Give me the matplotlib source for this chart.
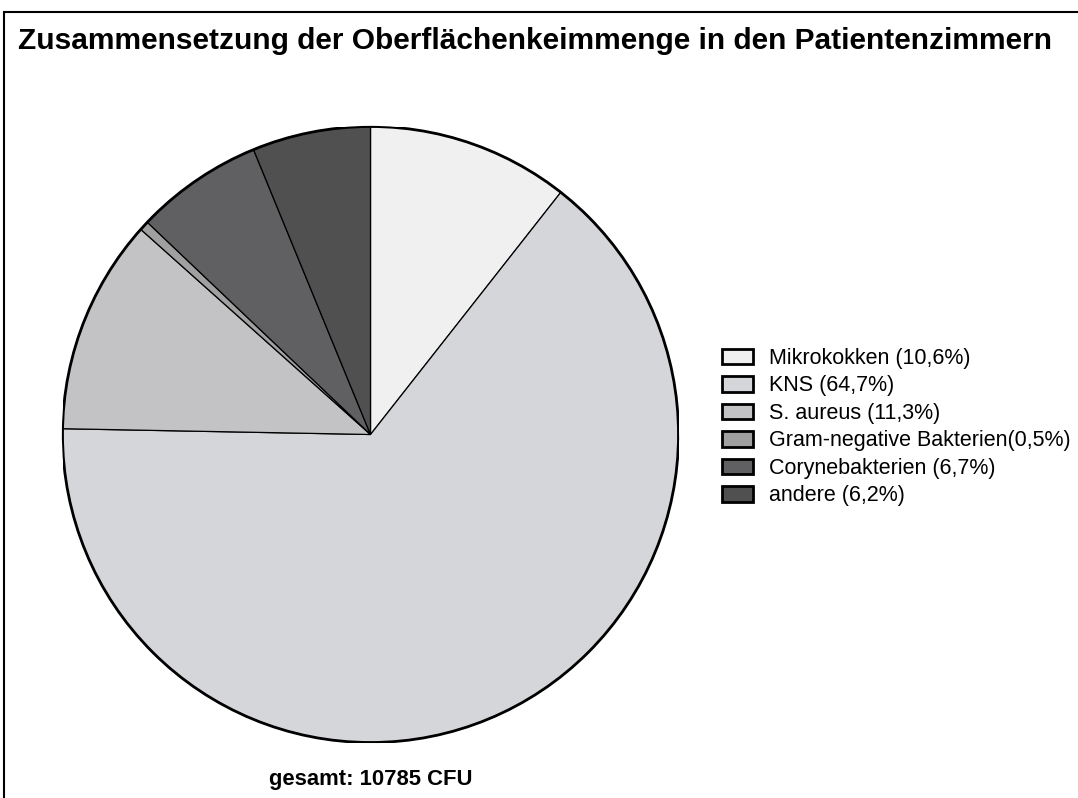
import matplotlib.pyplot as plt
from matplotlib.patches import Patch, Circle, Rectangle

categories = ['Mikrokokken', 'KNS', 'S. aureus', 'Gram-negative Bakterien',
              'Corynebakterien', 'andere']
shares = [10.6, 64.7, 11.3, 0.5, 6.7, 6.2]
legend_labels = ['Mikrokokken (10,6%)', 'KNS (64,7%)', 'S. aureus (11,3%)',
                 'Gram-negative Bakterien(0,5%)', 'Corynebakterien (6,7%)',
                 'andere (6,2%)']
colors = ['#f0f0f0', '#d5d6d9', '#c3c3c5', '#a0a0a0', '#606063', '#505050']
total_cfu = 10785

plt.rcParams['font.family'] = ['Liberation Sans', 'DejaVu Sans']

W, H = 1078, 798
fig = plt.figure(figsize=(W / 100, H / 100), dpi=100)

# outer frame (right and bottom edges fall outside the image)
fig.patches.append(Rectangle((4 / W, -0.1), 1.2, 1.1 - 12 / H, transform=fig.transFigure,
                             fill=False, edgecolor='black', linewidth=1.5))

fig.text(18 / W, 1 - 41 / H, 'Zusammensetzung der Oberflächenkeimmenge in den Patientenzimmern',
         fontsize=21.5, fontweight='bold', va='center', ha='left')

cx, cy, r = 370.5, 434.5, 308
ax = fig.add_axes([(cx - r) / W, (H - cy - r) / H, 2 * r / W, 2 * r / H])
wedges, _ = ax.pie(shares, colors=colors, startangle=90, counterclock=False,
                   wedgeprops=dict(edgecolor='black', linewidth=0.9))
ax.add_patch(Circle((0, 0), 1, fill=False, edgecolor='black', linewidth=2))
ax.set_xlim(-1, 1)
ax.set_ylim(-1, 1)
ax.set_aspect('equal')
ax.axis('off')
for w in wedges:
    w.set_clip_on(False)

fig.text(cx / W, 1 - 780 / H, f'gesamt: {total_cfu} CFU', fontsize=15.8,
         fontweight='bold', ha='center', va='center')

handles = [Patch(facecolor=c, edgecolor='black', linewidth=2) for c in colors]
fig.legend(handles, legend_labels, loc='upper left',
           bbox_to_anchor=(722 / W, 1 - 348 / H), frameon=False, fontsize=15.5,
           borderpad=0, borderaxespad=0, handlelength=1.45, handleheight=0.74,
           handletextpad=0.74, labelspacing=0.3)

plt.savefig('out.png', dpi=100)
